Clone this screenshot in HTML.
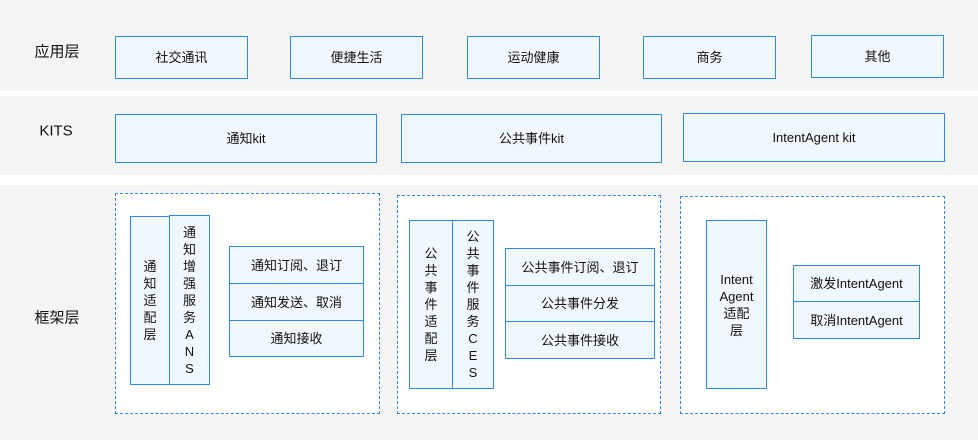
<!DOCTYPE html>
<html><head><meta charset="utf-8"><style>
*{margin:0;padding:0;box-sizing:border-box}
body{width:978px;height:440px;background:#fff;position:relative;overflow:hidden;font-family:"Liberation Sans","Noto Sans CJK SC",sans-serif;font-size:13px;color:#111}
.band{position:absolute;left:0;width:978px;background:#f5f5f5}
.b{position:absolute;border:1px solid #2d8ae0;background:#f0f8fe;display:flex;align-items:center;justify-content:center;text-align:center;line-height:17px}
.d{position:absolute;border:1px dashed #2d8ae0;background:#fff}
.lab{position:absolute;font-size:15px;transform:translate(-50%,-50%);white-space:nowrap}
.v{flex-direction:column}
</style></head><body>
<div class="band" style="top:0;height:91px"></div>
<div class="band" style="top:96px;height:79px"></div>
<div class="band" style="top:185px;height:255px"></div>

<div class="lab" style="left:57px;top:51px">应用层</div>
<div class="lab" style="left:56px;top:131px">KITS</div>
<div class="lab" style="left:57px;top:317px">框架层</div>

<div class="b" style="left:115px;top:36px;width:133px;height:43px">社交通讯</div>
<div class="b" style="left:290px;top:36px;width:133px;height:43px">便捷生活</div>
<div class="b" style="left:467px;top:36px;width:133px;height:43px">运动健康</div>
<div class="b" style="left:643px;top:36px;width:133px;height:43px">商务</div>
<div class="b" style="left:811px;top:35px;width:133px;height:43px">其他</div>

<div class="b" style="left:115px;top:114px;width:262px;height:49px">通知kit</div>
<div class="b" style="left:401px;top:114px;width:261px;height:49px">公共事件kit</div>
<div class="b" style="left:683px;top:113px;width:262px;height:49px">IntentAgent kit</div>

<div class="d" style="left:115px;top:193px;width:265px;height:221px"></div>
<div class="d" style="left:397px;top:195px;width:264px;height:219px"></div>
<div class="d" style="left:680px;top:196px;width:265px;height:218px"></div>

<div class="b v" style="left:130px;top:216px;width:40px;height:169px">通<br>知<br>适<br>配<br>层</div>
<div class="b v" style="left:169px;top:215px;width:41px;height:170px">通<br>知<br>增<br>强<br>服<br>务<br>A<br>N<br>S</div>
<div class="b" style="left:229px;top:246px;width:135px;height:38px">通知订阅、退订</div>
<div class="b" style="left:229px;top:283px;width:135px;height:38px">通知发送、取消</div>
<div class="b" style="left:229px;top:320px;width:135px;height:37px">通知接收</div>

<div class="b v" style="left:409px;top:220px;width:44px;height:169px">公<br>共<br>事<br>件<br>适<br>配<br>层</div>
<div class="b v" style="left:452px;top:220px;width:42px;height:169px">公<br>共<br>事<br>件<br>服<br>务<br>C<br>E<br>S</div>
<div class="b" style="left:505px;top:248px;width:150px;height:38px">公共事件订阅、退订</div>
<div class="b" style="left:505px;top:285px;width:150px;height:37px">公共事件分发</div>
<div class="b" style="left:505px;top:321px;width:150px;height:38px">公共事件接收</div>

<div class="b v" style="left:706px;top:220px;width:61px;height:169px">Intent<br>Agent<br>适配<br>层</div>
<div class="b" style="left:793px;top:265px;width:127px;height:37px">激发IntentAgent</div>
<div class="b" style="left:793px;top:301px;width:127px;height:38px">取消IntentAgent</div>
</body></html>
